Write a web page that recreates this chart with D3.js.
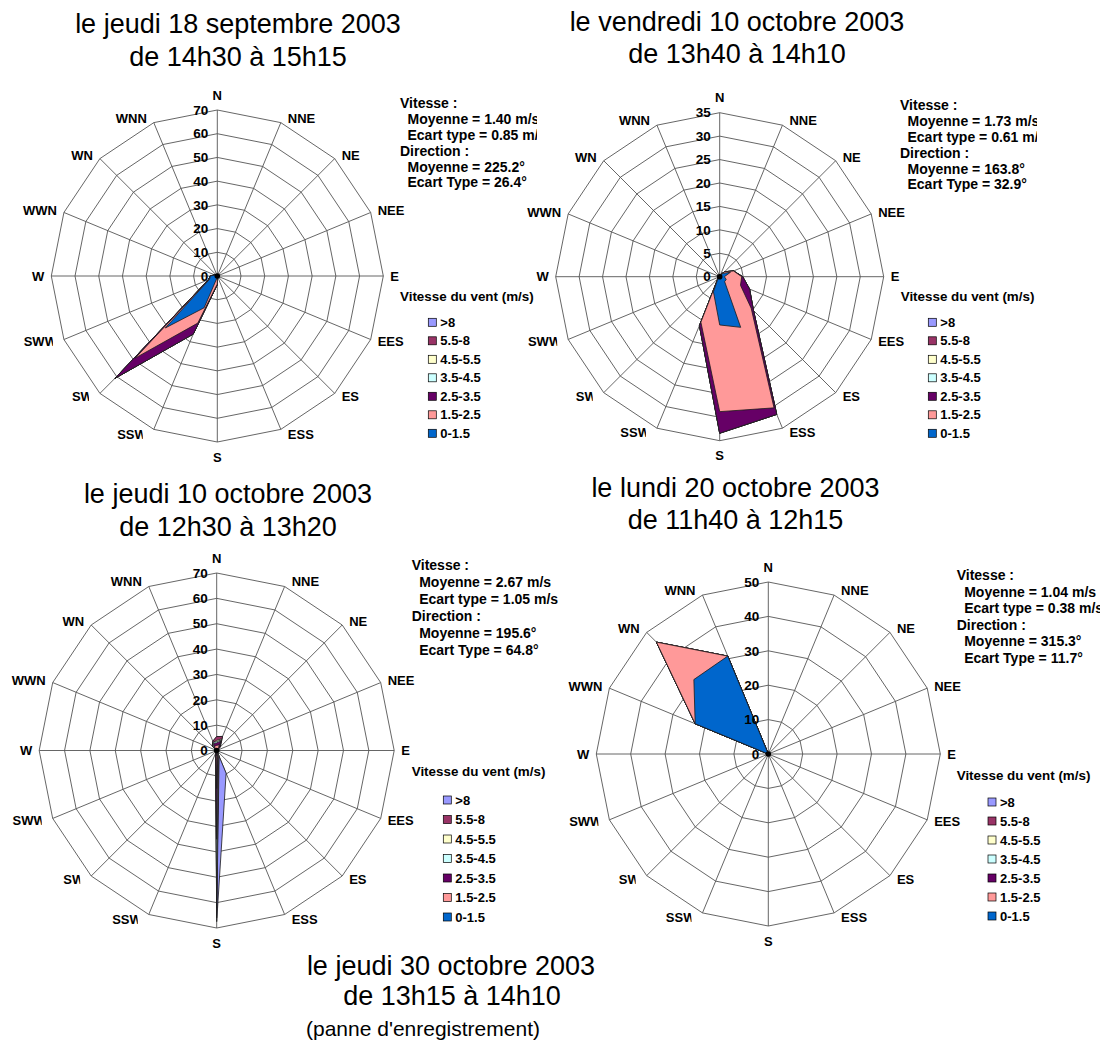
<!DOCTYPE html>
<html><head><meta charset="utf-8">
<script src="https://cdn.jsdelivr.net/npm/d3@7"></script>
<style>body{margin:0;background:#fff} svg{display:block}</style>
</head><body>
<svg id="chart" width="1102" height="1044"></svg>
<script>
const directions = ["N","NNE","NE","NEE","E","EES","ES","ESS","S","SSW","SW","SWW","W","WWN","WN","WNN"];
const speedClasses = ["0-1.5","1.5-2.5","2.5-3.5","3.5-4.5","4.5-5.5","5.5-8",">8"];
const classColors = ["#0066CC","#FF9999","#660066","#CCFFFF","#FFFFCC","#993366","#9999FF"];

// jeudi 18 septembre 2003 (% per direction, per speed class)
const sep18_c0 = [0,0,0,0,0,0,0,0,0.5,14.5,31,3.5,3,1,0,0];
const sep18_c1 = [0,0,0,0,0,0,0,0,2.9,7,18,0.3,0,0,0,0];
const sep18_c2 = [0,0,0,0,0,0,0,0,0.2,5,12,0.2,0,0.2,0,0];
const sep18_c3 = [0,0,0,0,0,0,0,0,0,0,0,0,0,0,0,0];
const sep18_c4 = [0,0,0,0,0,0,0,0,0,0,0,0,0,0,0,0];
const sep18_c5 = [0,0,0,0,0,0,0,0,0,0,0,0,0,0,0,0];
const sep18_c6 = [0,0,0,0,0,0,0,0,0,0,0,0,0,0,0,0];
const sep18_ticks = ["0","10","20","30","40","50","60","70"];
const sep18_stats = ["Vitesse :","Moyenne = 1.40 m/s","Ecart type = 0.85 m/s","Direction :","Moyenne = 225.2°","Ecart Type = 26.4°"];

// vendredi 10 octobre 2003
const oct10v_c0 = [0,0.3,1,2.5,1,1.5,1.5,11.7,10.3,3.5,0.5,0.3,0,0,0,0];
const oct10v_c1 = [0,0.2,0.5,0.7,3.7,3.3,8,18.6,18.5,7,0,0,0,0,0,0];
const oct10v_c2 = [0,0,0,0,0.2,2.1,0.7,1.5,4.6,0.8,0,0,0,0,0,0];
const oct10v_c3 = [0,0,0,0,0,0,0,0,0,0,0,0,0,0,0,0];
const oct10v_c4 = [0,0,0,0,0,0,0,0,0,0,0,0,0,0,0,0];
const oct10v_c5 = [0,0,0,0,0,0,0,0,0,0,0,0,0,0,0,0];
const oct10v_c6 = [0,0,0,0,0,0,0,0,0,0,0,0,0,0,0,0];
const oct10v_ticks = ["0","5","10","15","20","25","30","35"];
const oct10v_stats = ["Vitesse :","Moyenne = 1.73 m/s","Ecart type = 0.61 m/s","Direction :","Moyenne = 163.8°","Ecart Type = 32.9°"];

// jeudi 10 octobre 2003
const oct10j_c0 = [0.5,0.5,0.2,0,0,0,0,0.3,2,0.3,0,0,0.2,0,0.3,0.5];
const oct10j_c1 = [1.5,2,0.8,0,0,0,0,0.2,13,0.2,0,0,0.3,0,0.7,1.5];
const oct10j_c2 = [1,1.5,0.5,0,0,0,0,0.5,20,0.5,0,0,0.5,0,0.5,1];
const oct10j_c3 = [0.5,0.5,0,0,0,0,0,0.5,24,0,0,0,0,0,0.5,0.5];
const oct10j_c4 = [0.5,0.5,0,0,0,0,0,0.5,3,0,0,0,0,0,0,0];
const oct10j_c5 = [1.5,1,0.5,0,0,0,0,0.5,4,0,0,0,0,0,0.5,0.5];
const oct10j_c6 = [0,0,0,0,0,0,0,7.2,1.5,0,0,0,0,0,0,0];
const oct10j_ticks = ["0","10","20","30","40","50","60","70"];
const oct10j_stats = ["Vitesse :","Moyenne = 2.67 m/s","Ecart type = 1.05 m/s","Direction :","Moyenne = 195.6°","Ecart Type = 64.8°"];

// lundi 20 octobre 2003
const oct20_c0 = [0,0,0,0,0,0,0,0,0,0,0,0,0,23,30.6,30.8];
const oct20_c1 = [0,0,0,0,0,0,0,0,0,0,0,0,0,0,15.4,0];
const oct20_c2 = [0,0,0,0,0,0,0,0,0,0,0,0,0,0,0,0];
const oct20_c3 = [0,0,0,0,0,0,0,0,0,0,0,0,0,0,0,0];
const oct20_c4 = [0,0,0,0,0,0,0,0,0,0,0,0,0,0,0,0];
const oct20_c5 = [0,0,0,0,0,0,0,0,0,0,0,0,0,0,0,0];
const oct20_c6 = [0,0,0,0,0,0,0,0,0,0,0,0,0,0,0,0];
const oct20_ticks = ["0","10","20","30","40","50"];
const oct20_stats = ["Vitesse :","Moyenne = 1.04 m/s","Ecart type = 0.38 m/s","Direction :","Moyenne = 315.3°","Ecart Type = 11.7°"];

const legendTitle = "Vitesse du vent (m/s)";
const titles = [
  ["le jeudi 18 septembre 2003","de 14h30 à 15h15"],
  ["le vendredi 10 octobre 2003","de 13h40 à 14h10"],
  ["le jeudi 10 octobre 2003","de 12h30 à 13h20"],
  ["le lundi 20 octobre 2003","de 11h40 à 12h15"],
  ["le jeudi 30 octobre 2003","de 13h15 à 14h10","(panne d'enregistrement)"]
];

const svg = d3.select("#chart");
const FONT = "'Liberation Sans', Arial, sans-serif";

const charts = [
  {id:"a", series:[sep18_c0,sep18_c1,sep18_c2,sep18_c3,sep18_c4,sep18_c5,sep18_c6], ticks:sep18_ticks, stats:sep18_stats,
   cx:217.3, cy:276, R:166, title:titles[0], tx:238, ty:[33,66],
   sx:400, sy:103, sdy:15.9, clipX:537, lx:400, ly:296, lsx:428.3, lfy:322.3, ldy:18.5},
  {id:"b", series:[oct10v_c0,oct10v_c1,oct10v_c2,oct10v_c3,oct10v_c4,oct10v_c5,oct10v_c6], ticks:oct10v_ticks, stats:oct10v_stats,
   cx:719.7, cy:276.7, R:164, title:titles[1], tx:737, ty:[31,63],
   sx:900, sy:105, sdy:15.9, clipX:1037, lx:900.7, ly:296, lsx:928.3, lfy:322.3, ldy:18.5},
  {id:"c", series:[oct10j_c0,oct10j_c1,oct10j_c2,oct10j_c3,oct10j_c4,oct10j_c5,oct10j_c6], ticks:oct10j_ticks, stats:oct10j_stats,
   cx:216.7, cy:750.5, R:177.5, title:titles[2], tx:228, ty:[503,536],
   sx:411.7, sy:565, sdy:17, clipX:558.5, lx:411.7, ly:771, lsx:443.3, lfy:800, ldy:19.5},
  {id:"d", series:[oct20_c0,oct20_c1,oct20_c2,oct20_c3,oct20_c4,oct20_c5,oct20_c6], ticks:oct20_ticks, stats:oct20_stats,
   cx:768.3, cy:754, R:172, title:titles[3], tx:735.5, ty:[497,529],
   sx:956.7, sy:575, sdy:16.6, clipX:1100, lx:956.7, ly:775, lsx:988, lfy:802, ldy:19}
];

const defs = svg.append("defs");
const N = directions.length;
const ang = i => i * 2 * Math.PI / N;

charts.forEach(cfg => {
  const g = svg.append("g");
  const maxV = +cfg.ticks[cfg.ticks.length - 1];
  const r = d3.scaleLinear().domain([0, maxV]).range([0, cfg.R]);
  const radial = d3.lineRadial().angle((d, i) => ang(i)).radius(d => r(d)).curve(d3.curveLinearClosed);
  const plot = g.append("g").attr("transform", `translate(${cfg.cx},${cfg.cy})`);

  // grid rings
  cfg.ticks.slice(1).forEach(t => {
    plot.append("path").attr("d", radial(directions.map(() => +t)))
      .attr("fill", "none").attr("stroke", "#555").attr("stroke-width", 0.9);
  });
  // spokes
  directions.forEach((d, i) => {
    plot.append("line").attr("x1", 0).attr("y1", 0)
      .attr("x2", r(maxV) * Math.sin(ang(i))).attr("y2", -r(maxV) * Math.cos(ang(i)))
      .attr("stroke", "#555").attr("stroke-width", 0.9);
  });

  // stacked (cumulative) series, largest drawn first
  const cum = [];
  cfg.series.forEach((s, k) => cum.push(s.map((v, i) => (k ? cum[k - 1][i] : 0) + v)));
  for (let k = cum.length - 1; k >= 0; k--) {
    plot.append("path").attr("d", radial(cum[k]))
      .attr("fill", classColors[k]).attr("stroke", "#1a1a1a").attr("stroke-width", 0.8)
      .attr("stroke-linejoin", "miter");
  }
  plot.append("circle").attr("r", 2.8).attr("fill", "#000");

  // tick labels
  cfg.ticks.forEach(t => {
    plot.append("text").attr("x", -9).attr("y", -r(+t)).attr("dy", "0.35em")
      .attr("text-anchor", "end").attr("font-family", FONT).attr("font-weight", "bold")
      .attr("font-size", 13.5).text(t);
  });

  // direction labels
  directions.forEach((d, i) => {
    const s = Math.sin(ang(i)), c = Math.cos(ang(i));
    const vx = cfg.R * s, vy = -cfg.R * c;
    let x, y, anchor;
    if (Math.abs(s) < 0.01) { x = vx; y = vy - 15 * c; anchor = "middle"; }
    else { anchor = s > 0 ? "start" : "end"; x = vx + (s > 0 ? 7 : -7); y = vy - 5 * c; }
    let parent = g;
    if (d === "SSW" || d === "SW" || d === "SWW") {
      const cid = "lbl" + cfg.id + d;
      defs.append("clipPath").attr("id", cid).append("rect")
        .attr("x", cfg.cx + x - 60).attr("y", cfg.cy + y - 15).attr("width", 56).attr("height", 30);
      parent = g.append("g").attr("clip-path", `url(#${cid})`);
    }
    parent.append("text").attr("x", cfg.cx + x).attr("y", cfg.cy + y).attr("dy", "0.35em")
      .attr("text-anchor", anchor).attr("font-family", FONT).attr("font-weight", "bold")
      .attr("font-size", 13).text(d);
  });

  // titles
  cfg.title.forEach((line, j) => {
    g.append("text").attr("x", cfg.tx).attr("y", cfg.ty[j]).attr("text-anchor", "middle")
      .attr("font-family", FONT).attr("font-size", 27).attr("fill", "#000").text(line);
  });

  // stats block (clipped on the right like the original)
  const sid = "st" + cfg.id;
  defs.append("clipPath").attr("id", sid).append("rect")
    .attr("x", cfg.sx - 10).attr("y", cfg.sy - 15).attr("width", cfg.clipX - cfg.sx + 10).attr("height", 120);
  const sg = g.append("g").attr("clip-path", `url(#${sid})`);
  cfg.stats.forEach((line, j) => {
    const indent = (j === 0 || j === 3) ? 0 : 7.5;
    sg.append("text").attr("x", cfg.sx + indent).attr("y", cfg.sy + j * cfg.sdy).attr("dy", "0.35em")
      .attr("font-family", FONT).attr("font-weight", "bold").attr("font-size", 14).text(line);
  });

  // legend
  g.append("text").attr("x", cfg.lx).attr("y", cfg.ly).attr("dy", "0.35em")
    .attr("font-family", FONT).attr("font-weight", "bold").attr("font-size", 13.4).text(legendTitle);
  const order = d3.range(speedClasses.length).reverse();
  order.forEach((k, j) => {
    const yy = cfg.lfy + j * cfg.ldy;
    g.append("rect").attr("x", cfg.lsx).attr("y", yy - 4).attr("width", 8).attr("height", 8)
      .attr("fill", classColors[k]).attr("stroke", "#000").attr("stroke-width", 0.7);
    g.append("text").attr("x", cfg.lsx + 12).attr("y", yy).attr("dy", "0.35em")
      .attr("font-family", FONT).attr("font-weight", "bold").attr("font-size", 13).text(speedClasses[k]);
  });
});

// bottom title (no chart: recording failure)
const last = titles[4];
svg.append("text").attr("x", 451).attr("y", 975).attr("text-anchor", "middle")
  .attr("font-family", FONT).attr("font-size", 27).text(last[0]);
svg.append("text").attr("x", 452).attr("y", 1005).attr("text-anchor", "middle")
  .attr("font-family", FONT).attr("font-size", 27).text(last[1]);
svg.append("text").attr("x", 306).attr("y", 1036).attr("text-anchor", "start")
  .attr("font-family", FONT).attr("font-size", 21).text(last[2]);
</script>
</body></html>
